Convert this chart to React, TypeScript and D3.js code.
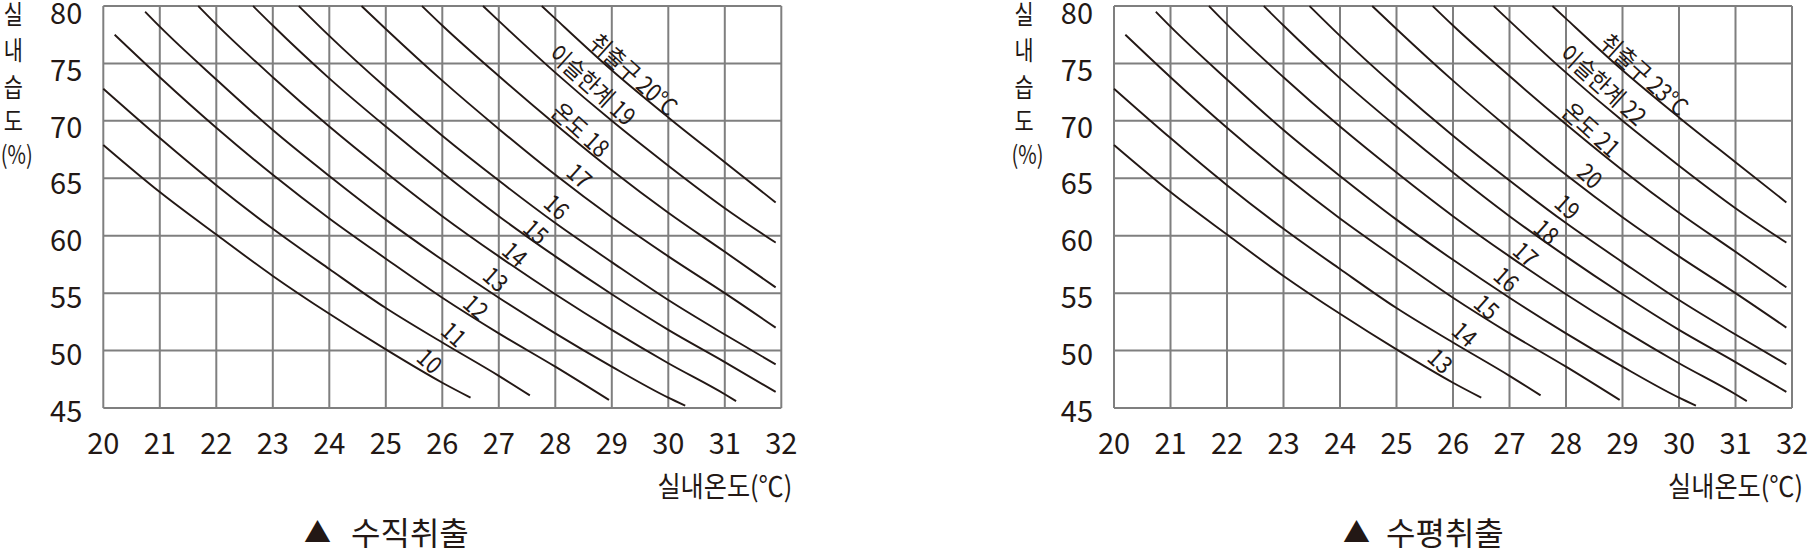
import React from 'react';
import * as d3 from 'd3';

// ---- data ----
const xTicks = [20, 21, 22, 23, 24, 25, 26, 27, 28, 29, 30, 31, 32];
const yTicks = [45, 50, 55, 60, 65, 70, 75, 80];

// curves, lowest to highest: [indoor temp °C, indoor RH %]
const line1 = [[20, 67.9], [21, 63.8], [22, 60.1], [23, 56.5], [24, 53.2], [25, 50.1], [26, 47.2], [26.5, 45.9]];
const line2 = [[20, 72.8], [21, 68.5], [22, 64.4], [23, 60.6], [24, 57.1], [25, 53.7], [26, 50.7], [27, 47.8], [27.55, 46.1]];
const line3 = [[20.2, 77.5], [21, 73.8], [22, 69.4], [23, 65.3], [24, 61.5], [25, 58.0], [26, 54.6], [27, 51.5], [28, 48.6], [28.95, 45.7]];
const line4 = [[20.74, 79.5], [21, 78.2], [22, 73.6], [23, 69.2], [24, 65.2], [25, 61.4], [26, 57.9], [27, 54.6], [28, 51.5], [29, 48.6], [30, 45.9], [30.3, 45.2]];
const line5 = [[21.68, 80], [22, 78.4], [23, 73.8], [24, 69.5], [25, 65.5], [26, 61.7], [27, 58.2], [28, 54.9], [29, 51.8], [30, 48.9], [31, 46.2], [31.2, 45.6]];
const line6 = [[22.65, 80], [23, 78.3], [24, 73.7], [25, 69.5], [26, 65.5], [27, 61.7], [28, 58.2], [29, 54.9], [30, 51.8], [31, 49.0], [31.9, 46.4]];
const line7 = [[23.46, 80], [24, 77.4], [25, 72.9], [26, 68.7], [27, 64.8], [28, 61.1], [29, 57.7], [30, 54.4], [31, 51.4], [31.9, 48.8]];
const line8 = [[24.57, 80], [25, 78.0], [26, 73.5], [27, 69.3], [28, 65.3], [29, 61.6], [30, 58.2], [31, 55.0], [31.9, 52.0]];
const line9 = [[25.64, 80], [26, 78.3], [27, 73.9], [28, 69.7], [29, 65.7], [30, 62.0], [31, 58.6], [31.9, 55.5]];
const line10 = [[26.72, 80], [27, 78.7], [28, 74.2], [29, 70.0], [30, 66.1], [31, 62.4], [31.9, 59.4]];
const line11 = [[27.76, 80], [28, 78.9], [29, 74.4], [30, 70.3], [31, 66.4], [31.9, 62.9]];
const curves = [line1, line2, line3, line4, line5, line6, line7, line8, line9, line10, line11];

const leftLabels = ['10', '11', '12', '13', '14', '15', '16', '17', '온도 18', '이슬한계 19', '취출구 20°C'];
const rightLabels = ['13', '14', '15', '16', '17', '18', '19', '20', '온도 21', '이슬한계 22', '취출구 23°C'];
// label centres in data coordinates [temp, RH]
const labelAnchors = [
  [25.79, 49.18], [26.22, 51.5], [26.61, 53.88], [26.96, 56.29], [27.3, 58.47], [27.67, 60.43],
  [28.04, 62.59], [28.44, 65.29], [28.46, 69.3], [28.67, 73.2], [29.4, 74.1],
];

const yTitleChars = ['실', '내', '습', '도', '(%)'];
const xTitle = '실내온도(℃)';
const leftSubtitle = '수직취출';
const rightSubtitle = '수평취출';

// ---- style ----
const W = 1812;
const H = 548;
const INK = '#231815';
const GRID = '#7f7f7f';
const FONT = "'Noto Sans CJK KR', 'Noto Sans', sans-serif";

type ChartProps = { left: number; labels: string[]; subtitle: string; triX: number; subX: number };

function Chart({ left, labels, subtitle, triX, subX }: ChartProps) {
  const x = d3.scaleLinear().domain([20, 32]).range([left, left + 678]);
  const y = d3.scaleLinear().domain([45, 80]).range([408, 6]);
  const yLab = d3.scaleLinear().domain([45, 80]).range([421.7, 24]);
  const line = d3
    .line<number[]>()
    .x((d) => x(d[0]))
    .y((d) => y(d[1]))
    .curve(d3.curveMonotoneX);
  const titleY = [13, 49, 86, 120, 154];

  return (
    <g fontFamily={FONT} fill={INK}>
      {/* grid */}
      {xTicks.map((t) => (
        <line key={'vx' + t} x1={x(t)} x2={x(t)} y1={y(45)} y2={y(80)} stroke={GRID} strokeWidth={2} />
      ))}
      {yTicks.map((t) => (
        <line key={'hy' + t} x1={x(20)} x2={x(32)} y1={y(t)} y2={y(t)} stroke={GRID} strokeWidth={2} />
      ))}
      {/* curves */}
      {curves.map((c, i) => (
        <path key={'c' + i} d={line(c) || ''} fill="none" stroke={INK} strokeWidth={1.9} />
      ))}
      {/* curve labels */}
      {labels.map((s, i) => (
        <text
          key={'l' + i}
          transform={`translate(${x(labelAnchors[i][0])},${y(labelAnchors[i][1])}) rotate(42) scale(0.92,1.05)`}
          textAnchor="middle"
          dominantBaseline="central"
          fontSize={23}
        >
          {s}
        </text>
      ))}
      {/* x ticks */}
      {xTicks.map((t) => (
        <text key={'xt' + t} x={x(t)} y={454} textAnchor="middle" fontSize={29}>
          {t}
        </text>
      ))}
      {/* y ticks */}
      {yTicks.map((t) => (
        <text key={'yt' + t} x={left - 21} y={yLab(t)} textAnchor="end" fontSize={29}>
          {t}
        </text>
      ))}
      {/* y title */}
      {yTitleChars.map((c, i) => (
        <text
          key={'yc' + i}
          transform={`translate(${left - 90 + (i === 4 ? 3.5 : 0)},${titleY[i]}) scale(0.8,1)`}
          textAnchor="middle"
          dominantBaseline="central"
          fontSize={i === 4 ? 25 : 26}
        >
          {c}
        </text>
      ))}
      {/* x title */}
      <text
        transform={`translate(${left + 689},497) scale(0.9,1)`}
        textAnchor="end"
        fontSize={28}
      >
        {xTitle}
      </text>
      {/* subtitle */}
      <text x={triX} y={543} textAnchor="middle" fontSize={27}>
        ▲
      </text>
      <text x={subX} y={545} fontSize={32}>
        {subtitle}
      </text>
    </g>
  );
}

export default function App() {
  return (
    <svg
      width={W}
      height={H}
      viewBox={`0 0 ${W} ${H}`}
      style={{ position: 'absolute', left: 0, top: 0, background: '#fff' }}
    >
      <rect width={W} height={H} fill="#fff" />
      <Chart left={103.3} labels={leftLabels} subtitle={leftSubtitle} triX={317.5} subX={351} />
      <Chart left={1114} labels={rightLabels} subtitle={rightSubtitle} triX={1356.5} subX={1386} />
    </svg>
  );
}
